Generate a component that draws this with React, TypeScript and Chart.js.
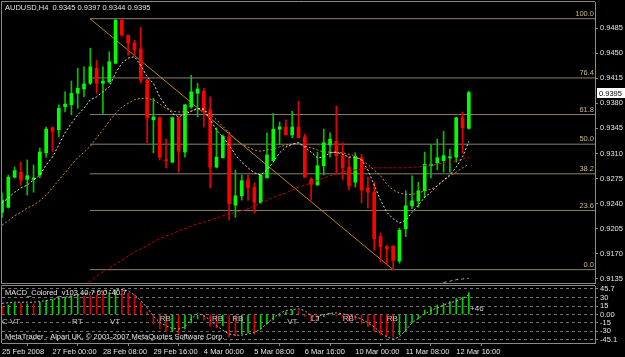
import React, { useEffect, useRef } from 'react';
import { Chart, registerables } from 'chart.js';

Chart.register(...registerables);

// ---------------- data ----------------
const chartTitle = 'AUDUSD,H4  0.9345 0.9397 0.9344 0.9395';
const macdTitle = 'MACD_Colored_v103 40.7 0.0 -40.7';
const copyrightText = 'MetaTrader - Alpari UK, \u00A9 2001-2007 MetaQuotes Software Corp.';

const openP = [
  0.9228, 0.9235, 0.9277, 0.9284, 0.9274, 0.9274, 0.9280, 0.9311, 0.9346, 0.9343,
  0.9375, 0.9378, 0.9394, 0.9400, 0.9408, 0.9429, 0.9408, 0.9410, 0.9436, 0.9496,
  0.9475, 0.9464, 0.9456, 0.9412, 0.9357, 0.9360, 0.9301, 0.9298, 0.9360, 0.9312,
  0.9375, 0.9394, 0.9397, 0.9371, 0.9291, 0.9304, 0.9333, 0.9238, 0.9251, 0.9273,
  0.9263, 0.9241, 0.9276, 0.9300, 0.9344, 0.9347, 0.9336, 0.9347, 0.9333, 0.9274,
  0.9266, 0.9293, 0.9322, 0.9327, 0.9307, 0.9291, 0.9270, 0.9304, 0.9262, 0.9256,
  0.9194, 0.9180, 0.9181, 0.9160, 0.9205, 0.9237, 0.9244, 0.9258, 0.9293, 0.9297,
  0.9300, 0.9304, 0.9305, 0.9360, 0.9345,
];
const highP = [
  0.9255, 0.9280, 0.9291, 0.9298, 0.9301, 0.9294, 0.9318, 0.9347, 0.9347, 0.9378,
  0.9396, 0.9411, 0.9429, 0.9431, 0.9457, 0.9440, 0.9431, 0.9452, 0.9497, 0.9498,
  0.9475, 0.9468, 0.9486, 0.9414, 0.9387, 0.9361, 0.9330, 0.9361, 0.9361, 0.9378,
  0.9419, 0.9408, 0.9401, 0.9389, 0.9346, 0.9336, 0.9340, 0.9287, 0.9280, 0.9280,
  0.9269, 0.9281, 0.9339, 0.9366, 0.9354, 0.9357, 0.9369, 0.9383, 0.9337, 0.9276,
  0.9312, 0.9344, 0.9339, 0.9376, 0.9325, 0.9305, 0.9311, 0.9309, 0.9277, 0.9270,
  0.9199, 0.9182, 0.9181, 0.9206, 0.9258, 0.9279, 0.9270, 0.9312, 0.9322, 0.9330,
  0.9341, 0.9316, 0.9360, 0.9368, 0.9397,
];
const lowP = [
  0.9221, 0.9234, 0.9276, 0.9266, 0.9252, 0.9256, 0.9276, 0.9305, 0.9313, 0.9333,
  0.9368, 0.9364, 0.9373, 0.9389, 0.9406, 0.9394, 0.9366, 0.9408, 0.9435, 0.9474,
  0.9447, 0.9446, 0.9408, 0.9325, 0.9311, 0.9301, 0.9290, 0.9297, 0.9284, 0.9305,
  0.9373, 0.9361, 0.9347, 0.9262, 0.9290, 0.9304, 0.9217, 0.9221, 0.9245, 0.9245,
  0.9227, 0.9241, 0.9276, 0.9300, 0.9322, 0.9336, 0.9332, 0.9332, 0.9277, 0.9245,
  0.9266, 0.9280, 0.9305, 0.9281, 0.9273, 0.9259, 0.9263, 0.9241, 0.9234, 0.9175,
  0.9159, 0.9155, 0.9148, 0.9157, 0.9194, 0.9233, 0.9235, 0.9248, 0.9276, 0.9287,
  0.9284, 0.9284, 0.9298, 0.9311, 0.9344,
];
const closeP = [
  0.9245, 0.9277, 0.9286, 0.9273, 0.9279, 0.9276, 0.9312, 0.9344, 0.9341, 0.9373,
  0.9379, 0.9394, 0.9401, 0.9407, 0.9431, 0.9408, 0.9411, 0.9438, 0.9496, 0.9475,
  0.9464, 0.9454, 0.9412, 0.9360, 0.9361, 0.9305, 0.9300, 0.9360, 0.9313, 0.9378,
  0.9396, 0.9400, 0.9369, 0.9291, 0.9305, 0.9334, 0.9240, 0.9251, 0.9272, 0.9262,
  0.9242, 0.9280, 0.9308, 0.9344, 0.9347, 0.9336, 0.9347, 0.9332, 0.9277, 0.9267,
  0.9293, 0.9325, 0.9330, 0.9307, 0.9290, 0.9265, 0.9305, 0.9259, 0.9256, 0.9191,
  0.9180, 0.9177, 0.9161, 0.9203, 0.9237, 0.9244, 0.9258, 0.9295, 0.9295, 0.9304,
  0.9307, 0.9305, 0.9360, 0.9346, 0.9395,
];

// moving averages (white, orange, dark red, grey)
const maFast = [
  0.9241, 0.9248, 0.9256, 0.9262, 0.9266, 0.9273, 0.9280, 0.9294, 0.9305, 0.9322,
  0.9339, 0.9352, 0.9364, 0.9373, 0.9385, 0.9389, 0.9396, 0.9403, 0.9422, 0.9436,
  0.9443, 0.9445, 0.9433, 0.9417, 0.9408, 0.9389, 0.9376, 0.9366, 0.9361, 0.9365,
  0.9369, 0.9373, 0.9372, 0.9357, 0.9343, 0.9333, 0.9322, 0.9308, 0.9298, 0.9290,
  0.9283, 0.9280, 0.9287, 0.9298, 0.9311, 0.9319, 0.9323, 0.9325, 0.9319, 0.9312,
  0.9304, 0.9305, 0.9311, 0.9312, 0.9309, 0.9305, 0.9305, 0.9301, 0.9287, 0.9266,
  0.9245, 0.9228, 0.9219, 0.9213, 0.9217, 0.9228, 0.9238, 0.9249, 0.9256, 0.9265,
  0.9273, 0.9280, 0.9291, 0.9305, 0.9327,
];
const maMid = [
  0.9210, 0.9216, 0.9223, 0.9228, 0.9234, 0.9238, 0.9244, 0.9252, 0.9262, 0.9273,
  0.9283, 0.9294, 0.9304, 0.9312, 0.9320, 0.9332, 0.9343, 0.9355, 0.9366, 0.9375,
  0.9380, 0.9385, 0.9387, 0.9387, 0.9385, 0.9379, 0.9373, 0.9369, 0.9368, 0.9368,
  0.9369, 0.9372, 0.9371, 0.9365, 0.9357, 0.9348, 0.9339, 0.9330, 0.9323, 0.9319,
  0.9315, 0.9313, 0.9315, 0.9316, 0.9319, 0.9322, 0.9323, 0.9325, 0.9320, 0.9318,
  0.9315, 0.9312, 0.9312, 0.9311, 0.9311, 0.9309, 0.9307, 0.9301, 0.9295, 0.9287,
  0.9279, 0.9267, 0.9259, 0.9255, 0.9253, 0.9253, 0.9255, 0.9258, 0.9260, 0.9265,
  0.9272, 0.9279, 0.9284, 0.9290, 0.9295,
];
const maSlow = [
  null, null, null, null, null, null, null, null, null, null,
  null, null, null, 0.9128, 0.9132, 0.9139, 0.9145, 0.9150, 0.9156, 0.9161,
  0.9167, 0.9173, 0.9177, 0.9181, 0.9187, 0.9191, 0.9195, 0.9198, 0.9202, 0.9205,
  0.9209, 0.9212, 0.9214, 0.9217, 0.9220, 0.9223, 0.9226, 0.9228, 0.9230, 0.9233,
  0.9237, 0.9241, 0.9245, 0.9249, 0.9252, 0.9255, 0.9259, 0.9263, 0.9266, 0.9269,
  0.9272, 0.9276, 0.9279, 0.9281, 0.9284, 0.9286, 0.9287, 0.9288, 0.9290, 0.9290,
  0.9290, 0.9290, 0.9290, 0.9290, 0.9290, 0.9291, 0.9291, 0.9293, 0.9294, 0.9295,
  0.9297, 0.9298, 0.9300, 0.9302, 0.9305,
];
const maLong = [
  null, null, null, null, null, null, null, null, null, null,
  null, null, null, null, null, null, null, null, null, null,
  null, null, null, null, null, null, null, null, null, null,
  null, null, null, null, null, null, null, null, null, null,
  null, null, null, null, null, null, null, null, null, null,
  null, null, null, null, null, null, null, null, null, null,
  null, null, null, null, null, null, null, null, null, null,
  0.9130, 0.9132, 0.9134, 0.9135, 0.9136,
];

// MACD panel
const macdHist = [
  14, 17, 20, 20, 19, 19, 22, 25, 27, 29,
  31, 33, 35, 33, 34, 35, 40, 40, 44, 44,
  38, 35, 21, 5, -17, -26, -31, -31, -35, -26,
  -15, -8, -10, -21, -24, -20, -40, -38, -35, -33,
  -35, -26, -17, -10, -3, 5, 8, 6, -3, -12,
  -10, -4, 2, -2, -5, -12, -9, -16, -22, -30,
  -36, -39, -40, -36, -30, -14, -8, 8, 13, 17,
  20, 23, 29, 31, 39,
];
const macdDir = [
  'd', 'u', 'u', 'd', 'u', 'd', 'u', 'u', 'u', 'u',
  'u', 'u', 'u', 'd', 'd', 'd', 'd', 'u', 'u', 'd',
  'd', 'd', 'd', 'd', 'd', 'd', 'd', 'u', 'd', 'u',
  'u', 'u', 'd', 'd', 'd', 'u', 'd', 'd', 'u', 'u',
  'd', 'u', 'u', 'u', 'u', 'u', 'u', 'd', 'd', 'd',
  'd', 'u', 'u', 'd', 'd', 'd', 'd', 'd', 'd', 'd',
  'd', 'd', 'd', 'u', 'u', 'u', 'u', 'u', 'u', 'u',
  'u', 'u', 'u', 'u', 'u',
];
const macdSignal = [
  20, 21, 22, 22, 22, 22, 23, 25, 27, 29,
  31, 33, 35, 37, 39, 41, 42, 43, 44, 45,
  42, 35, 25, 12, -3, -14, -20, -25, -26, -22,
  -8, 2, -2, -10, -20, -28, -35, -37, -37, -35,
  -32, -26, -16, -6, 2, 7, 9, 10, 7, -2,
  -4, 0, 2, 3, 1, -1, -4, -8, -15, -22,
  -33, -40, -44, -40, -28, -15, -7, 1, 7, 12,
  17, 21, 24, 29, 35,
];
const macdNotes = [
  { text: 'C VT', bar: 0, value: -13 },
  { text: 'RT', bar: 11.1, value: -13 },
  { text: 'VT', bar: 17.1, value: -13 },
  { text: 'RB', bar: 25.0, value: -8 },
  { text: 'RB', bar: 33.3, value: -8 },
  { text: 'RB', bar: 36.5, value: -8 },
  { text: 'VT', bar: 45.2, value: -13 },
  { text: 'LJ', bar: 49.0, value: -8 },
  { text: 'RB', bar: 54.0, value: -8 },
  { text: 'RB', bar: 61.0, value: -8 },
  { text: '+46', bar: 74.2, value: 10 },
];

// axes
const priceTicks = [0.9135, 0.9170, 0.9205, 0.9240, 0.9275, 0.9310, 0.9345, 0.9380, 0.9415, 0.9450, 0.9485];
const macdTicks = [-45.1, -30, -15, 0, 15, 30, 45.7];
const macdTickLabels = ['-45.1', '-30', '-15', '0.00', '15', '30', '45.7'];
const timeLabels = ['25 Feb 2008', '27 Feb 00:00', '28 Feb 08:00', '29 Feb 16:00', '4 Mar 00:00',
  '5 Mar 08:00', '6 Mar 16:00', '10 Mar 00:00', '11 Mar 08:00', '12 Mar 16:00'];
const timeTickBars = [0, 8, 16, 24, 32, 40, 48, 56, 64, 72];
const currentPrice = 0.9395;

// Fibonacci retracement object and its trend line
const fibHigh = 0.9498;
const fibLow = 0.9148;
const fibRatios = [0, 23.6, 38.2, 50, 61.8, 76.4, 100];
const fibStartBar = 13.95;
const trendEndBar = 62;

// ---------------- styling ----------------
const X_MIN = 0;
const X_MAX = 94;
const PRICE_MIN = 0.91294;
const PRICE_MAX = 0.95213;
const FONT = "'Liberation Sans', Arial, sans-serif";
const NARROW = "'Liberation Sans Narrow', 'Liberation Sans', Arial, sans-serif";
const FRAME = '#8a8a8a';
const TEXT = '#e4e4e4';

export default function App() {
  const mainRef = useRef<HTMLCanvasElement>(null);
  const macdRef = useRef<HTMLCanvasElement>(null);

  useEffect(() => {
    const idx = openP.map((_, i) => i);
    const up = idx.map((i) => closeP[i] >= openP[i]);

    const lineBase = {
      type: 'line' as const,
      borderWidth: 1,
      pointRadius: 0,
      fill: false,
      tension: 0,
      spanGaps: false,
    };
    const toPts = (arr: (number | null)[]) =>
      arr.map((v, i) => ({ x: i, y: v })).filter((p) => p.y !== null);

    const fibSets = fibRatios.map((r) => {
      const lvl = fibLow + ((fibHigh - fibLow) * r) / 100;
      return {
        ...lineBase,
        data: [{ x: fibStartBar, y: lvl }, { x: X_MAX, y: lvl }],
        borderColor: '#8e8170',
        order: 7,
      };
    });

    const mainPlugin = {
      id: 'mainDecor',
      afterDraw(chart: any) {
        const { ctx, chartArea: a, scales } = chart;
        const y = scales.y;
        ctx.save();
        ctx.strokeStyle = FRAME;
        ctx.lineWidth = 1;
        ctx.beginPath();
        ctx.moveTo(a.left - 0.5, a.bottom + 0.5);
        ctx.lineTo(a.left - 0.5, a.top - 0.5);
        ctx.lineTo(a.right, a.top - 0.5);
        ctx.moveTo(a.left - 0.5, a.bottom + 0.5);
        ctx.lineTo(a.right, a.bottom + 0.5);
        ctx.stroke();
        // fibo labels
        ctx.font = `7.5px ${FONT}`;
        ctx.fillStyle = '#cdb48e';
        ctx.textAlign = 'right';
        ctx.textBaseline = 'bottom';
        fibRatios.forEach((r) => {
          const lvl = fibLow + ((fibHigh - fibLow) * r) / 100;
          ctx.fillText(r.toFixed(1), a.right - 1, y.getPixelForValue(lvl) - 1);
        });
        // title
        ctx.textAlign = 'left';
        ctx.textBaseline = 'middle';
        ctx.fillStyle = TEXT;
        ctx.fillText(chartTitle, a.left + 3, a.top + 5.5);
        // current price marker
        const cp = y.getPixelForValue(currentPrice);
        ctx.fillStyle = '#ffffff';
        ctx.fillRect(a.right + 2, Math.round(cp) - 5, 28, 10);
        ctx.fillStyle = '#000000';
        ctx.fillText(currentPrice.toFixed(4), a.right + 4, Math.round(cp) + 0.5);
        ctx.restore();
      },
    };

    const main = new Chart(mainRef.current as HTMLCanvasElement, {
      type: 'bar',
      data: {
        datasets: [
          { ...lineBase, data: toPts(maFast), borderColor: '#dcdcdc', borderDash: [2, 2], order: 0 },
          { ...lineBase, data: toPts(maMid), borderColor: '#d88a1e', borderDash: [2, 2], order: 1 },
          { ...lineBase, data: toPts(maSlow), borderColor: '#c40000', borderDash: [3, 2], order: 2 },
          { ...lineBase, data: toPts(maLong), borderColor: '#a8a8a8', borderDash: [3, 3], order: 3 },
          {
            type: 'bar',
            data: idx.map((i) => ({ x: i, y: [openP[i], closeP[i]] })),
            backgroundColor: idx.map((i) => (up[i] ? '#00ff00' : '#ff0000')),
            barThickness: 3,
            minBarLength: 1,
            grouped: false,
            borderWidth: 0,
            order: 4,
          },
          {
            type: 'bar',
            data: idx.map((i) => ({ x: i, y: [lowP[i], highP[i]] })),
            backgroundColor: idx.map((i) => (up[i] ? '#00c400' : '#e80000')),
            barThickness: 1,
            grouped: false,
            borderWidth: 0,
            order: 5,
          },
          {
            ...lineBase,
            data: [{ x: fibStartBar, y: fibHigh }, { x: trendEndBar, y: fibLow }],
            borderColor: '#b8860b',
            order: 6,
          },
          ...fibSets,
        ] as any,
      },
      options: {
        animation: false,
        responsive: false,
        maintainAspectRatio: false,
        events: [],
        layout: { padding: { left: 2, top: 2, right: 0, bottom: 1 } },
        plugins: { legend: { display: false }, tooltip: { enabled: false } },
        scales: {
          x: { type: 'linear', min: X_MIN, max: X_MAX, offset: false, display: false },
          y: {
            type: 'linear',
            position: 'right',
            min: PRICE_MIN,
            max: PRICE_MAX,
            beginAtZero: false,
            bounds: 'data',
            afterBuildTicks: (s: any) => {
              s.ticks = priceTicks.map((v) => ({ value: v }));
            },
            afterFit: (s: any) => {
              s.width = 30;
              s.paddingTop = 0;
              s.paddingBottom = 0;
            },
            ticks: {
              color: TEXT,
              font: { family: FONT, size: 7.5 },
              padding: 2,
              autoSkip: false,
              callback: (v: any) => Number(v).toFixed(4),
            },
            grid: { drawOnChartArea: false, color: FRAME, tickLength: 3 },
            border: { display: true, color: FRAME },
          },
        } as any,
      },
      plugins: [mainPlugin],
    });

    const macdPlugin = {
      id: 'macdDecor',
      afterDraw(chart: any) {
        const { ctx, chartArea: a, scales } = chart;
        ctx.save();
        ctx.strokeStyle = FRAME;
        ctx.lineWidth = 1;
        ctx.beginPath();
        ctx.moveTo(a.left - 0.5, a.bottom);
        ctx.lineTo(a.left - 0.5, a.top - 0.5);
        ctx.lineTo(a.right, a.top - 0.5);
        ctx.stroke();
        ctx.font = `7.5px ${FONT}`;
        ctx.textAlign = 'left';
        ctx.textBaseline = 'middle';
        ctx.fillStyle = TEXT;
        ctx.fillText(macdTitle, a.left + 3, a.top + 7);
        ctx.fillText(copyrightText, a.left + 3, a.bottom - 6);
        ctx.fillStyle = '#c8c8c8';
        ctx.font = `8px ${FONT}`;
        macdNotes.forEach((n) => {
          ctx.fillText(n.text, scales.x.getPixelForValue(n.bar), scales.y.getPixelForValue(n.value));
        });
        ctx.restore();
      },
    };

    const macd = new Chart(macdRef.current as HTMLCanvasElement, {
      type: 'bar',
      data: {
        datasets: [
          {
            ...lineBase,
            data: macdSignal.map((v, i) => ({ x: i, y: v })),
            borderColor: '#b4b4b4',
            borderDash: [2, 2],
            order: 0,
          },
          {
            type: 'bar',
            data: macdHist.map((v, i) => ({ x: i, y: v })),
            backgroundColor: macdDir.map((d) => (d === 'u' ? '#00d200' : '#e00000')),
            barThickness: 1,
            grouped: false,
            borderWidth: 0,
            order: 1,
          },
        ] as any,
      },
      options: {
        animation: false,
        responsive: false,
        maintainAspectRatio: false,
        events: [],
        layout: { padding: { left: 2, top: 2, right: 0, bottom: 0 } },
        plugins: { legend: { display: false }, tooltip: { enabled: false } },
        scales: {
          x: {
            type: 'linear',
            min: X_MIN,
            max: X_MAX,
            offset: false,
            position: 'bottom',
            afterBuildTicks: (s: any) => {
              s.ticks = timeTickBars.map((v) => ({ value: v }));
            },
            afterFit: (s: any) => {
              s.height = 14;
              s.paddingLeft = 0;
              s.paddingRight = 0;
            },
            ticks: {
              color: TEXT,
              font: { family: NARROW, size: 7.5 },
              align: 'start',
              padding: 1,
              maxRotation: 0,
              minRotation: 0,
              autoSkip: false,
              callback: (_v: any, i: number) => timeLabels[i],
            },
            grid: { drawOnChartArea: false, color: FRAME, tickLength: 3 },
            border: { display: true, color: FRAME },
          },
          y: {
            type: 'linear',
            position: 'right',
            min: -51,
            max: 51,
            beginAtZero: false,
            bounds: 'data',
            afterBuildTicks: (s: any) => {
              s.ticks = macdTicks.map((v) => ({ value: v }));
            },
            afterFit: (s: any) => {
              s.width = 30;
              s.paddingTop = 0;
              s.paddingBottom = 0;
            },
            ticks: {
              color: TEXT,
              font: { family: FONT, size: 7.5 },
              padding: 2,
              autoSkip: false,
              callback: (_v: any, i: number) => macdTickLabels[i],
            },
            grid: { drawOnChartArea: true, color: '#747474', tickLength: 3, tickColor: FRAME },
            border: { display: true, color: FRAME, dash: [3, 3] },
          },
        } as any,
      },
      plugins: [macdPlugin],
    });

    return () => {
      main.destroy();
      macd.destroy();
    };
  }, []);

  return (
    <div
      style={{
        position: 'fixed',
        left: 0,
        top: 0,
        width: 625,
        height: 357,
        background: '#000',
        overflow: 'hidden',
      }}
    >
      <canvas ref={mainRef} width={625} height={284} style={{ position: 'absolute', left: 0, top: 0 }} />
      <canvas ref={macdRef} width={625} height={73} style={{ position: 'absolute', left: 0, top: 284 }} />
    </div>
  );
}
